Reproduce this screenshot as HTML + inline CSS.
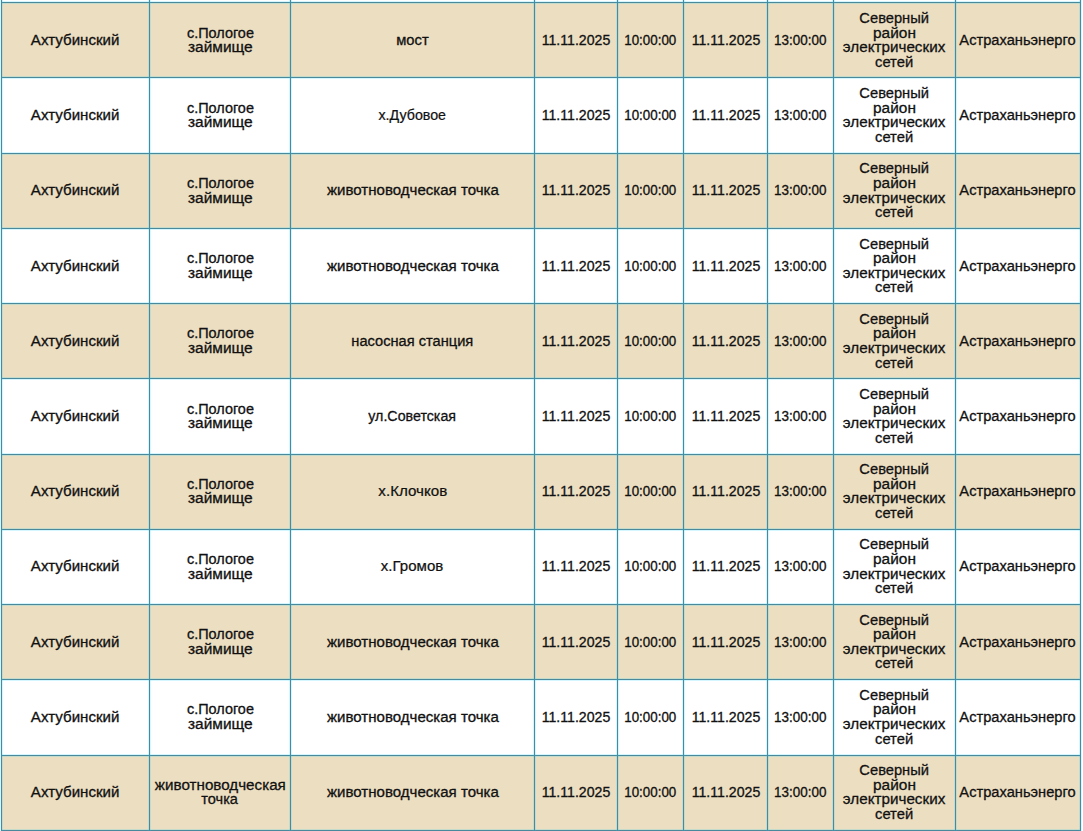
<!DOCTYPE html><html><head><meta charset="utf-8"><style>
html,body{margin:0;padding:0;background:#fff;width:1083px;height:831px;overflow:hidden;position:relative}
.r{position:absolute;background:#ecdec1}
.h{position:absolute;height:1px;background:#4a889c;box-shadow:0 -1px 0 rgba(0,210,255,0.17),0 1px 0 rgba(0,210,255,0.17)}
.v{position:absolute;width:1px;background:#4a889c;box-shadow:-1px 0 0 rgba(0,210,255,0.17),1px 0 0 rgba(0,210,255,0.17)}
.c{position:absolute;display:flex;flex-direction:column;align-items:center;justify-content:center;font-family:"Liberation Sans",sans-serif;color:#111;white-space:nowrap;line-height:14.6px}
.l{display:block;transform-origin:50% 50%}
.sb{font-size:14px;font-weight:400;-webkit-text-stroke:0.3px #111}
.md{font-size:14px;font-weight:400;-webkit-text-stroke:0.28px #111}
.rg{font-size:14px;font-weight:400;-webkit-text-stroke:0.3px #111}
.ar{font-size:14px;font-weight:400;-webkit-text-stroke:0.22px #111}
</style></head><body>

<div class="r" style="left:1px;top:2px;width:1079px;height:75px"></div>
<div class="r" style="left:1px;top:153px;width:1079px;height:75px"></div>
<div class="r" style="left:1px;top:303px;width:1079px;height:75px"></div>
<div class="r" style="left:1px;top:454px;width:1079px;height:75px"></div>
<div class="r" style="left:1px;top:604px;width:1079px;height:75px"></div>
<div class="r" style="left:1px;top:755px;width:1079px;height:75px"></div>
<div class="c" style="left:2px;top:3.25px;width:147px;height:74px"><span class="l sb" style="transform:scaleX(1.0768)">Ахтубинский</span></div>
<div class="c" style="left:150px;top:3.25px;width:140px;height:74px"><span class="l rg" style="transform:scaleX(1.0312)">с.Пологое</span><span class="l rg" style="transform:scaleX(1.1034)">займище</span></div>
<div class="c" style="left:291px;top:3.25px;width:243px;height:74px"><span class="l sb" style="transform:scaleX(1.0533)">мост</span></div>
<div class="c" style="left:535px;top:3.25px;width:82px;height:74px"><span class="l sb" style="transform:scaleX(1.0090)">11.11.2025</span></div>
<div class="c" style="left:618px;top:3.25px;width:65px;height:74px"><span class="l sb" style="transform:scaleX(0.9537)">10:00:00</span></div>
<div class="c" style="left:684px;top:3.25px;width:83px;height:74px"><span class="l sb" style="transform:scaleX(1.0090)">11.11.2025</span></div>
<div class="c" style="left:768px;top:3.25px;width:65px;height:74px"><span class="l sb" style="transform:scaleX(0.9611)">13:00:00</span></div>
<div class="c" style="left:834px;top:3.25px;width:121px;height:74px"><span class="l md" style="transform:scaleX(1.0492)">Северный</span><span class="l md" style="transform:scaleX(1.1027)">район</span><span class="l md" style="transform:scaleX(1.0882)">электрических</span><span class="l md" style="transform:scaleX(1.0543)">сетей</span></div>
<div class="c" style="left:956px;top:3.25px;width:124px;height:74px"><span class="l md" style="transform:scaleX(1.0477)">Астраханьэнерго</span></div>
<div class="c" style="left:2px;top:78.45px;width:147px;height:74px"><span class="l sb" style="transform:scaleX(1.0768)">Ахтубинский</span></div>
<div class="c" style="left:150px;top:78.45px;width:140px;height:74px"><span class="l rg" style="transform:scaleX(1.0312)">с.Пологое</span><span class="l rg" style="transform:scaleX(1.1034)">займище</span></div>
<div class="c" style="left:291px;top:78.45px;width:243px;height:74px"><span class="l ar" style="transform:scaleX(1.0152)">х.Дубовое</span></div>
<div class="c" style="left:535px;top:78.45px;width:82px;height:74px"><span class="l sb" style="transform:scaleX(1.0090)">11.11.2025</span></div>
<div class="c" style="left:618px;top:78.45px;width:65px;height:74px"><span class="l sb" style="transform:scaleX(0.9537)">10:00:00</span></div>
<div class="c" style="left:684px;top:78.45px;width:83px;height:74px"><span class="l sb" style="transform:scaleX(1.0090)">11.11.2025</span></div>
<div class="c" style="left:768px;top:78.45px;width:65px;height:74px"><span class="l sb" style="transform:scaleX(0.9611)">13:00:00</span></div>
<div class="c" style="left:834px;top:78.45px;width:121px;height:74px"><span class="l md" style="transform:scaleX(1.0492)">Северный</span><span class="l md" style="transform:scaleX(1.1027)">район</span><span class="l md" style="transform:scaleX(1.0882)">электрических</span><span class="l md" style="transform:scaleX(1.0543)">сетей</span></div>
<div class="c" style="left:956px;top:78.45px;width:124px;height:74px"><span class="l md" style="transform:scaleX(1.0477)">Астраханьэнерго</span></div>
<div class="c" style="left:2px;top:153.65px;width:147px;height:74px"><span class="l sb" style="transform:scaleX(1.0768)">Ахтубинский</span></div>
<div class="c" style="left:150px;top:153.65px;width:140px;height:74px"><span class="l rg" style="transform:scaleX(1.0312)">с.Пологое</span><span class="l rg" style="transform:scaleX(1.1034)">займище</span></div>
<div class="c" style="left:291px;top:153.65px;width:243px;height:74px"><span class="l sb" style="transform:scaleX(1.0750)">животноводческая точка</span></div>
<div class="c" style="left:535px;top:153.65px;width:82px;height:74px"><span class="l sb" style="transform:scaleX(1.0090)">11.11.2025</span></div>
<div class="c" style="left:618px;top:153.65px;width:65px;height:74px"><span class="l sb" style="transform:scaleX(0.9537)">10:00:00</span></div>
<div class="c" style="left:684px;top:153.65px;width:83px;height:74px"><span class="l sb" style="transform:scaleX(1.0090)">11.11.2025</span></div>
<div class="c" style="left:768px;top:153.65px;width:65px;height:74px"><span class="l sb" style="transform:scaleX(0.9611)">13:00:00</span></div>
<div class="c" style="left:834px;top:153.65px;width:121px;height:74px"><span class="l md" style="transform:scaleX(1.0492)">Северный</span><span class="l md" style="transform:scaleX(1.1027)">район</span><span class="l md" style="transform:scaleX(1.0882)">электрических</span><span class="l md" style="transform:scaleX(1.0543)">сетей</span></div>
<div class="c" style="left:956px;top:153.65px;width:124px;height:74px"><span class="l md" style="transform:scaleX(1.0477)">Астраханьэнерго</span></div>
<div class="c" style="left:2px;top:228.85px;width:147px;height:74px"><span class="l sb" style="transform:scaleX(1.0768)">Ахтубинский</span></div>
<div class="c" style="left:150px;top:228.85px;width:140px;height:74px"><span class="l rg" style="transform:scaleX(1.0312)">с.Пологое</span><span class="l rg" style="transform:scaleX(1.1034)">займище</span></div>
<div class="c" style="left:291px;top:228.85px;width:243px;height:74px"><span class="l sb" style="transform:scaleX(1.0750)">животноводческая точка</span></div>
<div class="c" style="left:535px;top:228.85px;width:82px;height:74px"><span class="l sb" style="transform:scaleX(1.0090)">11.11.2025</span></div>
<div class="c" style="left:618px;top:228.85px;width:65px;height:74px"><span class="l sb" style="transform:scaleX(0.9537)">10:00:00</span></div>
<div class="c" style="left:684px;top:228.85px;width:83px;height:74px"><span class="l sb" style="transform:scaleX(1.0090)">11.11.2025</span></div>
<div class="c" style="left:768px;top:228.85px;width:65px;height:74px"><span class="l sb" style="transform:scaleX(0.9611)">13:00:00</span></div>
<div class="c" style="left:834px;top:228.85px;width:121px;height:74px"><span class="l md" style="transform:scaleX(1.0492)">Северный</span><span class="l md" style="transform:scaleX(1.1027)">район</span><span class="l md" style="transform:scaleX(1.0882)">электрических</span><span class="l md" style="transform:scaleX(1.0543)">сетей</span></div>
<div class="c" style="left:956px;top:228.85px;width:124px;height:74px"><span class="l md" style="transform:scaleX(1.0477)">Астраханьэнерго</span></div>
<div class="c" style="left:2px;top:304.05px;width:147px;height:74px"><span class="l sb" style="transform:scaleX(1.0768)">Ахтубинский</span></div>
<div class="c" style="left:150px;top:304.05px;width:140px;height:74px"><span class="l rg" style="transform:scaleX(1.0312)">с.Пологое</span><span class="l rg" style="transform:scaleX(1.1034)">займище</span></div>
<div class="c" style="left:291px;top:304.05px;width:243px;height:74px"><span class="l sb" style="transform:scaleX(1.0452)">насосная станция</span></div>
<div class="c" style="left:535px;top:304.05px;width:82px;height:74px"><span class="l sb" style="transform:scaleX(1.0090)">11.11.2025</span></div>
<div class="c" style="left:618px;top:304.05px;width:65px;height:74px"><span class="l sb" style="transform:scaleX(0.9537)">10:00:00</span></div>
<div class="c" style="left:684px;top:304.05px;width:83px;height:74px"><span class="l sb" style="transform:scaleX(1.0090)">11.11.2025</span></div>
<div class="c" style="left:768px;top:304.05px;width:65px;height:74px"><span class="l sb" style="transform:scaleX(0.9611)">13:00:00</span></div>
<div class="c" style="left:834px;top:304.05px;width:121px;height:74px"><span class="l md" style="transform:scaleX(1.0492)">Северный</span><span class="l md" style="transform:scaleX(1.1027)">район</span><span class="l md" style="transform:scaleX(1.0882)">электрических</span><span class="l md" style="transform:scaleX(1.0543)">сетей</span></div>
<div class="c" style="left:956px;top:304.05px;width:124px;height:74px"><span class="l md" style="transform:scaleX(1.0477)">Астраханьэнерго</span></div>
<div class="c" style="left:2px;top:379.25px;width:147px;height:74px"><span class="l sb" style="transform:scaleX(1.0768)">Ахтубинский</span></div>
<div class="c" style="left:150px;top:379.25px;width:140px;height:74px"><span class="l rg" style="transform:scaleX(1.0312)">с.Пологое</span><span class="l rg" style="transform:scaleX(1.1034)">займище</span></div>
<div class="c" style="left:291px;top:379.25px;width:243px;height:74px"><span class="l md" style="transform:scaleX(1.0163)">ул.Советская</span></div>
<div class="c" style="left:535px;top:379.25px;width:82px;height:74px"><span class="l sb" style="transform:scaleX(1.0090)">11.11.2025</span></div>
<div class="c" style="left:618px;top:379.25px;width:65px;height:74px"><span class="l sb" style="transform:scaleX(0.9537)">10:00:00</span></div>
<div class="c" style="left:684px;top:379.25px;width:83px;height:74px"><span class="l sb" style="transform:scaleX(1.0090)">11.11.2025</span></div>
<div class="c" style="left:768px;top:379.25px;width:65px;height:74px"><span class="l sb" style="transform:scaleX(0.9611)">13:00:00</span></div>
<div class="c" style="left:834px;top:379.25px;width:121px;height:74px"><span class="l md" style="transform:scaleX(1.0492)">Северный</span><span class="l md" style="transform:scaleX(1.1027)">район</span><span class="l md" style="transform:scaleX(1.0882)">электрических</span><span class="l md" style="transform:scaleX(1.0543)">сетей</span></div>
<div class="c" style="left:956px;top:379.25px;width:124px;height:74px"><span class="l md" style="transform:scaleX(1.0477)">Астраханьэнерго</span></div>
<div class="c" style="left:2px;top:454.45px;width:147px;height:74px"><span class="l sb" style="transform:scaleX(1.0768)">Ахтубинский</span></div>
<div class="c" style="left:150px;top:454.45px;width:140px;height:74px"><span class="l rg" style="transform:scaleX(1.0312)">с.Пологое</span><span class="l rg" style="transform:scaleX(1.1034)">займище</span></div>
<div class="c" style="left:291px;top:454.45px;width:243px;height:74px"><span class="l ar" style="transform:scaleX(1.0825)">х.Клочков</span></div>
<div class="c" style="left:535px;top:454.45px;width:82px;height:74px"><span class="l sb" style="transform:scaleX(1.0090)">11.11.2025</span></div>
<div class="c" style="left:618px;top:454.45px;width:65px;height:74px"><span class="l sb" style="transform:scaleX(0.9537)">10:00:00</span></div>
<div class="c" style="left:684px;top:454.45px;width:83px;height:74px"><span class="l sb" style="transform:scaleX(1.0090)">11.11.2025</span></div>
<div class="c" style="left:768px;top:454.45px;width:65px;height:74px"><span class="l sb" style="transform:scaleX(0.9611)">13:00:00</span></div>
<div class="c" style="left:834px;top:454.45px;width:121px;height:74px"><span class="l md" style="transform:scaleX(1.0492)">Северный</span><span class="l md" style="transform:scaleX(1.1027)">район</span><span class="l md" style="transform:scaleX(1.0882)">электрических</span><span class="l md" style="transform:scaleX(1.0543)">сетей</span></div>
<div class="c" style="left:956px;top:454.45px;width:124px;height:74px"><span class="l md" style="transform:scaleX(1.0477)">Астраханьэнерго</span></div>
<div class="c" style="left:2px;top:529.65px;width:147px;height:74px"><span class="l sb" style="transform:scaleX(1.0768)">Ахтубинский</span></div>
<div class="c" style="left:150px;top:529.65px;width:140px;height:74px"><span class="l rg" style="transform:scaleX(1.0312)">с.Пологое</span><span class="l rg" style="transform:scaleX(1.1034)">займище</span></div>
<div class="c" style="left:291px;top:529.65px;width:243px;height:74px"><span class="l ar" style="transform:scaleX(1.0737)">х.Громов</span></div>
<div class="c" style="left:535px;top:529.65px;width:82px;height:74px"><span class="l sb" style="transform:scaleX(1.0090)">11.11.2025</span></div>
<div class="c" style="left:618px;top:529.65px;width:65px;height:74px"><span class="l sb" style="transform:scaleX(0.9537)">10:00:00</span></div>
<div class="c" style="left:684px;top:529.65px;width:83px;height:74px"><span class="l sb" style="transform:scaleX(1.0090)">11.11.2025</span></div>
<div class="c" style="left:768px;top:529.65px;width:65px;height:74px"><span class="l sb" style="transform:scaleX(0.9611)">13:00:00</span></div>
<div class="c" style="left:834px;top:529.65px;width:121px;height:74px"><span class="l md" style="transform:scaleX(1.0492)">Северный</span><span class="l md" style="transform:scaleX(1.1027)">район</span><span class="l md" style="transform:scaleX(1.0882)">электрических</span><span class="l md" style="transform:scaleX(1.0543)">сетей</span></div>
<div class="c" style="left:956px;top:529.65px;width:124px;height:74px"><span class="l md" style="transform:scaleX(1.0477)">Астраханьэнерго</span></div>
<div class="c" style="left:2px;top:604.85px;width:147px;height:74px"><span class="l sb" style="transform:scaleX(1.0768)">Ахтубинский</span></div>
<div class="c" style="left:150px;top:604.85px;width:140px;height:74px"><span class="l rg" style="transform:scaleX(1.0312)">с.Пологое</span><span class="l rg" style="transform:scaleX(1.1034)">займище</span></div>
<div class="c" style="left:291px;top:604.85px;width:243px;height:74px"><span class="l sb" style="transform:scaleX(1.0750)">животноводческая точка</span></div>
<div class="c" style="left:535px;top:604.85px;width:82px;height:74px"><span class="l sb" style="transform:scaleX(1.0090)">11.11.2025</span></div>
<div class="c" style="left:618px;top:604.85px;width:65px;height:74px"><span class="l sb" style="transform:scaleX(0.9537)">10:00:00</span></div>
<div class="c" style="left:684px;top:604.85px;width:83px;height:74px"><span class="l sb" style="transform:scaleX(1.0090)">11.11.2025</span></div>
<div class="c" style="left:768px;top:604.85px;width:65px;height:74px"><span class="l sb" style="transform:scaleX(0.9611)">13:00:00</span></div>
<div class="c" style="left:834px;top:604.85px;width:121px;height:74px"><span class="l md" style="transform:scaleX(1.0492)">Северный</span><span class="l md" style="transform:scaleX(1.1027)">район</span><span class="l md" style="transform:scaleX(1.0882)">электрических</span><span class="l md" style="transform:scaleX(1.0543)">сетей</span></div>
<div class="c" style="left:956px;top:604.85px;width:124px;height:74px"><span class="l md" style="transform:scaleX(1.0477)">Астраханьэнерго</span></div>
<div class="c" style="left:2px;top:680.05px;width:147px;height:74px"><span class="l sb" style="transform:scaleX(1.0768)">Ахтубинский</span></div>
<div class="c" style="left:150px;top:680.05px;width:140px;height:74px"><span class="l rg" style="transform:scaleX(1.0312)">с.Пологое</span><span class="l rg" style="transform:scaleX(1.1034)">займище</span></div>
<div class="c" style="left:291px;top:680.05px;width:243px;height:74px"><span class="l sb" style="transform:scaleX(1.0750)">животноводческая точка</span></div>
<div class="c" style="left:535px;top:680.05px;width:82px;height:74px"><span class="l sb" style="transform:scaleX(1.0090)">11.11.2025</span></div>
<div class="c" style="left:618px;top:680.05px;width:65px;height:74px"><span class="l sb" style="transform:scaleX(0.9537)">10:00:00</span></div>
<div class="c" style="left:684px;top:680.05px;width:83px;height:74px"><span class="l sb" style="transform:scaleX(1.0090)">11.11.2025</span></div>
<div class="c" style="left:768px;top:680.05px;width:65px;height:74px"><span class="l sb" style="transform:scaleX(0.9611)">13:00:00</span></div>
<div class="c" style="left:834px;top:680.05px;width:121px;height:74px"><span class="l md" style="transform:scaleX(1.0492)">Северный</span><span class="l md" style="transform:scaleX(1.1027)">район</span><span class="l md" style="transform:scaleX(1.0882)">электрических</span><span class="l md" style="transform:scaleX(1.0543)">сетей</span></div>
<div class="c" style="left:956px;top:680.05px;width:124px;height:74px"><span class="l md" style="transform:scaleX(1.0477)">Астраханьэнерго</span></div>
<div class="c" style="left:2px;top:755.25px;width:147px;height:74px"><span class="l sb" style="transform:scaleX(1.0768)">Ахтубинский</span></div>
<div class="c" style="left:150px;top:755.25px;width:140px;height:74px"><span class="l md" style="transform:scaleX(1.0850)">животноводческая</span><span class="l md" style="transform:scaleX(1.0417)">точка</span></div>
<div class="c" style="left:291px;top:755.25px;width:243px;height:74px"><span class="l sb" style="transform:scaleX(1.0750)">животноводческая точка</span></div>
<div class="c" style="left:535px;top:755.25px;width:82px;height:74px"><span class="l sb" style="transform:scaleX(1.0090)">11.11.2025</span></div>
<div class="c" style="left:618px;top:755.25px;width:65px;height:74px"><span class="l sb" style="transform:scaleX(0.9537)">10:00:00</span></div>
<div class="c" style="left:684px;top:755.25px;width:83px;height:74px"><span class="l sb" style="transform:scaleX(1.0090)">11.11.2025</span></div>
<div class="c" style="left:768px;top:755.25px;width:65px;height:74px"><span class="l sb" style="transform:scaleX(0.9611)">13:00:00</span></div>
<div class="c" style="left:834px;top:755.25px;width:121px;height:74px"><span class="l md" style="transform:scaleX(1.0492)">Северный</span><span class="l md" style="transform:scaleX(1.1027)">район</span><span class="l md" style="transform:scaleX(1.0882)">электрических</span><span class="l md" style="transform:scaleX(1.0543)">сетей</span></div>
<div class="c" style="left:956px;top:755.25px;width:124px;height:74px"><span class="l md" style="transform:scaleX(1.0477)">Астраханьэнерго</span></div>
<div class="h" style="left:1px;top:2px;width:1080px"></div>
<div class="h" style="left:1px;top:77px;width:1080px"></div>
<div class="h" style="left:1px;top:153px;width:1080px"></div>
<div class="h" style="left:1px;top:228px;width:1080px"></div>
<div class="h" style="left:1px;top:303px;width:1080px"></div>
<div class="h" style="left:1px;top:378px;width:1080px"></div>
<div class="h" style="left:1px;top:454px;width:1080px"></div>
<div class="h" style="left:1px;top:529px;width:1080px"></div>
<div class="h" style="left:1px;top:604px;width:1080px"></div>
<div class="h" style="left:1px;top:679px;width:1080px"></div>
<div class="h" style="left:1px;top:755px;width:1080px"></div>
<div class="h" style="left:1px;top:830px;width:1080px"></div>
<div class="v" style="left:1px;top:0px;height:831px"></div>
<div class="v" style="left:149px;top:0px;height:831px"></div>
<div class="v" style="left:290px;top:0px;height:831px"></div>
<div class="v" style="left:534px;top:0px;height:831px"></div>
<div class="v" style="left:617px;top:0px;height:831px"></div>
<div class="v" style="left:683px;top:0px;height:831px"></div>
<div class="v" style="left:767px;top:0px;height:831px"></div>
<div class="v" style="left:833px;top:0px;height:831px"></div>
<div class="v" style="left:955px;top:0px;height:831px"></div>
<div class="v" style="left:1080px;top:0px;height:831px"></div>
</body></html>
